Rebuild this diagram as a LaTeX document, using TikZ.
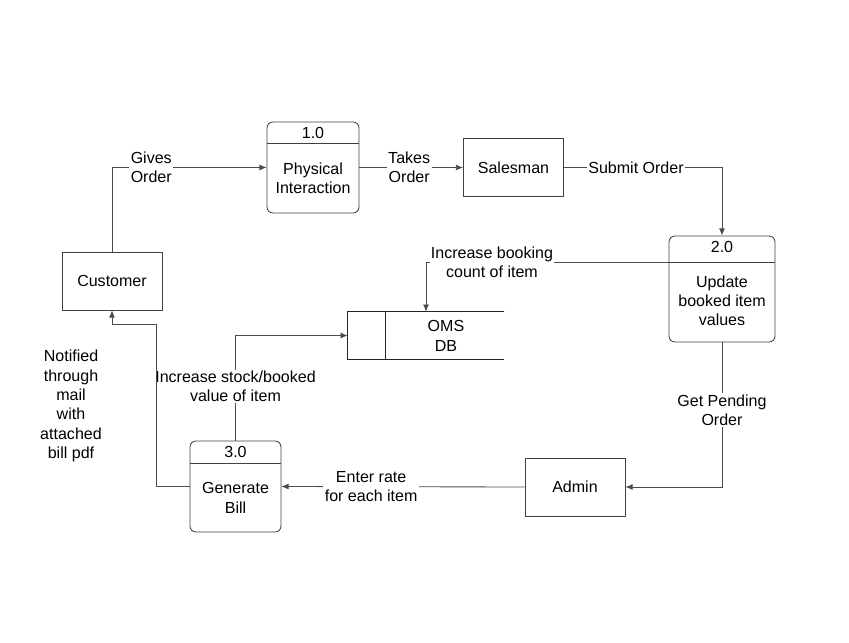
\documentclass[tikz,border=0pt]{standalone}
\usepackage{fontspec}
\setmainfont{Liberation Sans}
\usetikzlibrary{arrows.meta,calc,positioning}

\begin{document}
\begin{tikzpicture}[x=0.025cm,y=-0.025cm,
    font=\fontsize{11.4}{13.7}\selectfont,
    ent/.style={draw=black!75,line width=0.6pt,minimum width=2.5cm,minimum height=1.45cm,align=center},
    proc/.style={draw=black!75,line width=0.6pt,rounded corners=1.5mm},
    store/.style={draw=black!85,line width=0.7pt},
    flow/.style={draw=black!70,line width=0.6pt,-{Latex[length=1.8mm,width=1.5mm]}},
    lbl/.style={fill=white,align=center,inner sep=1pt}]
  \useasboundingbox (0,0) rectangle (849,643);

  % external entities
  \node[ent] (cust) at (112,281) {Customer};
  \node[ent] (sal) at (513.5,167.5) {Salesman};
  \node[ent] (adm) at (575,487) {Admin};

  % processes
  \node[proc,minimum width=2.3cm,minimum height=2.275cm] (p1) at (313,167.5) {};
  \draw[proc] ($(p1.north west)+(0,22)$) -- ($(p1.north east)+(0,22)$);
  \node (n1) at (313,133) {1.0};
  \node[align=center] (t1) at (313,178) {Physical\\Interaction};

  \node[proc,minimum width=2.65cm,minimum height=2.65cm] (p2) at (722,289) {};
  \draw[proc] ($(p2.north west)+(0,27)$) coordinate (d2) -- ($(p2.north east)+(0,27)$);
  \node (n2) at (722,247) {2.0};
  \node[align=center] (t2) at (722,301) {Update\\booked item\\values};

  \node[proc,minimum width=2.275cm,minimum height=2.275cm] (p3) at (235.5,486.5) {};
  \draw[proc] ($(p3.north west)+(0,23)$) -- ($(p3.north east)+(0,23)$);
  \node (n3) at (235.5,452) {3.0};
  \node[align=center] (t3) at (235.5,498) {Generate\\Bill};

  % data store
  \node[minimum width=3.9cm,minimum height=1.175cm] (db) at (426,335.5) {};
  \draw[store] (db.north east) -- (db.north west) -- (db.south west) -- (db.south east);
  \draw[store] ($(db.north west)+(38,0)$) -- ($(db.south west)+(38,0)$);
  \node[align=center] (dbt) at (446,336) {OMS\\DB};

  % flows
  \draw[flow] (cust.north) |- (p1.west) node[lbl,pos=0.627] (l1) {Gives\\Order};
  \draw[flow] (p1.east) -- (sal.west) node[lbl,pos=0.48] (l2) {Takes\\Order};
  \draw[flow] (sal.east) -| (p2.north) node[lbl,pos=0.228] (l3) {Submit Order};
  \draw[flow] (d2) -| (db.north) node[lbl,pos=0.364] (l4) {Increase booking\\count of item};
  \draw[flow] (p2.south) |- (adm.east) node[lbl,pos=0.234] (l5) {Get Pending\\Order};
  \draw[flow] (adm.west) -- (p3.east) node[lbl,pos=0.631] (l6) {Enter rate\\for each item};
  \draw[flow] (p3.north) |- (db.west) node[lbl,pos=0.257] (l7) {Increase stock/booked\\value of item};
  \draw[flow] (p3.west) -- ++(-33,0) |- ($(cust.south)+(0,14)$) -- (cust.south);

  \node[align=center] (note) at (71,406) {Notified\\through\\mail\\with\\attached\\bill pdf};
\end{tikzpicture}
\end{document}
